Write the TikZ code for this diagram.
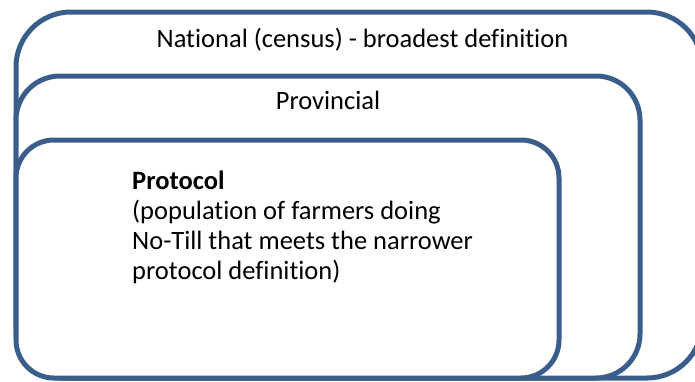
\documentclass[tikz,border=0pt]{standalone}
\usepackage{fontspec}
\setmainfont{Carlito}[Ligatures=NoCommon]
\definecolor{frameblue}{RGB}{58,94,140}
\begin{document}
\begin{tikzpicture}[x=1pt,y=-1pt,
  scopebox/.style={draw=frameblue, line width=5pt, fill=white},
  label/.style={font=\fontsize{26.5}{29.7}\selectfont, inner sep=0pt, anchor=base}]
\useasboundingbox (0,0) rectangle (695,381);
\clip (0,0) rectangle (695,381);
% nested definitions, broadest first
\draw[scopebox, rounded corners=55pt] (16,12) rectangle (702,378);
\draw[scopebox, rounded corners=44pt] (16,76) rectangle (640,378);
\draw[scopebox, rounded corners=38pt] (16,140) rectangle (559,378);
\node[label] (national) at (362.5,47) {National (census) - broadest definition};
\node[label] (provincial) at (328,109) {Provincial};
% anchored on the baseline of the last line
\node[label, anchor=base west, align=left] (protocol) at (132,279)
  {\textbf{Protocol}\\(population of farmers doing\\No-Till that meets the narrower\\protocol definition)};
\end{tikzpicture}
\end{document}
